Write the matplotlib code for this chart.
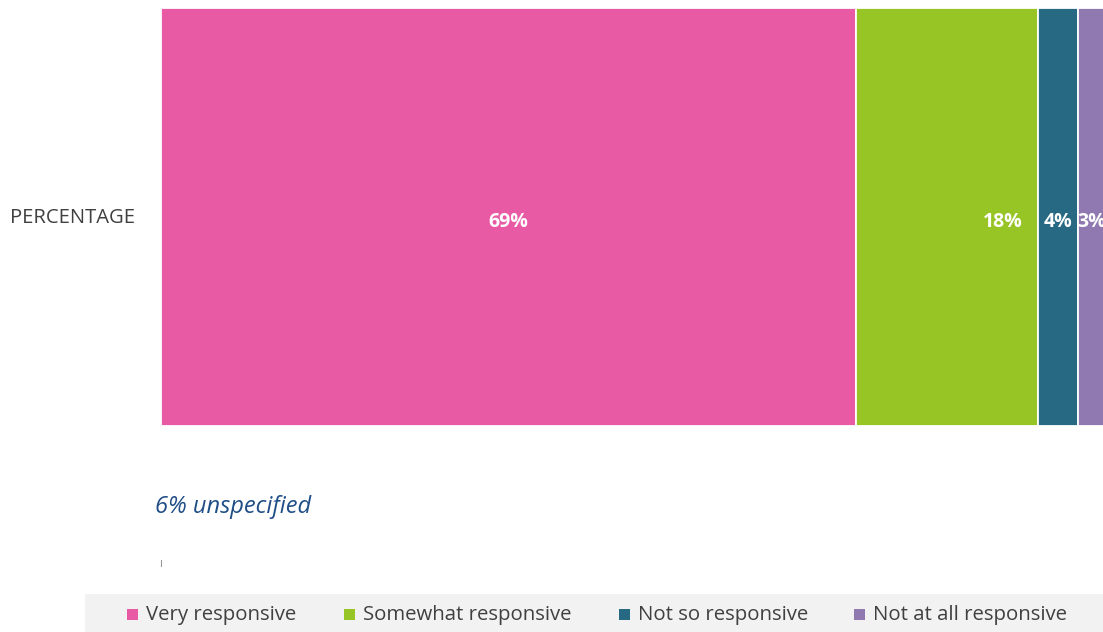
import matplotlib
matplotlib.use("Agg")
import matplotlib.pyplot as plt
from matplotlib.patches import Rectangle

# response breakdown
categories = ["Very responsive", "Somewhat responsive", "Not so responsive", "Not at all responsive"]
values = [69, 18, 4, 3]
colors = ["#E95AA5", "#97C525", "#276882", "#9079B0"]
row_label = "PERCENTAGE"
note = "6% unspecified"

# where each value label sits inside its segment (0 = start, 1 = end)
label_pos = [0.5, 0.81, 0.5, 0.45]

plt.rcParams["font.family"] = ["Open Sans", "DejaVu Sans"]

W, H = 1103, 632
fig = plt.figure(figsize=(W / 100, H / 100), dpi=100)
ax = fig.add_axes([161 / W, 1 - 426 / H, (W - 161) / W, 418 / H])

left = 0
for val, col, pos in zip(values, colors, label_pos):
    bars = ax.barh(0, val, left=left, height=1.0, color=col,
                   edgecolor="white", linewidth=1.3)
    bar = bars[0]
    t = ax.text(left + val * pos, -0.012, f"{val}%", ha="center", va="center",
                color="white", fontsize=14, fontweight="bold")
    t.set_clip_path(bar)
    left += val

ax.set_xlim(0, 93.5)
ax.set_ylim(-0.5, 0.5)
ax.axis("off")

fig.text(10 / W, 1 - 218 / H, row_label, ha="left", va="center",
         fontsize=14.6, color="#404040")
fig.text(155 / W, 1 - 507 / H, note, ha="left", va="center",
         fontsize=17, style="italic", color="#1F4E87")

# small leftover axis tick
fig.add_artist(plt.Line2D([161 / W, 161 / W], [1 - 560 / H, 1 - 566 / H],
                          color="#999999", linewidth=0.8))

# legend strip
fig.add_artist(Rectangle((85 / W, 0), (W - 85) / W, 38 / H,
                         transform=fig.transFigure, facecolor="#F2F2F2",
                         edgecolor="none", zorder=0))
marker_x = [127, 344, 619, 854]
for mx, cat, col in zip(marker_x, categories, colors):
    fig.add_artist(Rectangle((mx / W, 1 - 620 / H), 11 / W, 11 / H,
                             transform=fig.transFigure, facecolor=col,
                             edgecolor="none"))
    fig.text((mx + 19) / W, 1 - 615 / H, cat, ha="left", va="center",
             fontsize=14.7, color="#404040")

fig.savefig("out.png", dpi=100)
